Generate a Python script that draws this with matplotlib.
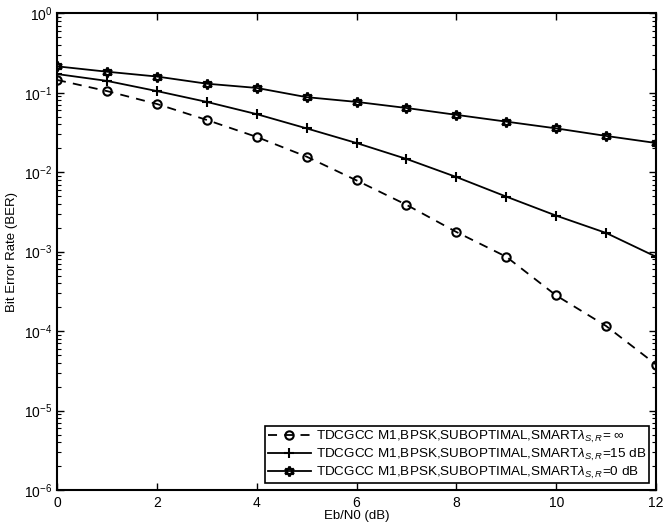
import matplotlib
matplotlib.use("Agg")
import matplotlib.pyplot as plt
from matplotlib.ticker import LogLocator, NullFormatter

plt.rcParams['font.family'] = ['Liberation Sans', 'DejaVu Sans']
plt.rcParams['mathtext.fontset'] = 'custom'
plt.rcParams['mathtext.rm'] = 'Liberation Sans'
plt.rcParams['mathtext.it'] = 'Liberation Sans:italic'

ebn0 = [0, 1, 2, 3, 4, 5, 6, 7, 8, 9, 10, 11, 12]
ber_inf = [0.145, 0.105, 0.0723, 0.0455, 0.0278, 0.0157, 0.00789, 0.00389,
           0.00177, 0.000863, 0.000281, 0.000116, 0.000038]
ber_15db = [0.172, 0.141, 0.105, 0.0767, 0.0538, 0.0356, 0.0233, 0.0147,
            0.0087, 0.00493, 0.00284, 0.00172, 0.000863]
ber_0db = [0.215, 0.184, 0.160, 0.130, 0.115, 0.088, 0.0767, 0.0643,
           0.0527, 0.0433, 0.0356, 0.0286, 0.0233]
labels = [r'TDCGCC M1,BPSK,SUBOPTIMAL,SMART$\lambda_{S,R}$= $\infty$',
          r'TDCGCC M1,BPSK,SUBOPTIMAL,SMART$\lambda_{S,R}$=15 dB',
          r'TDCGCC M1,BPSK,SUBOPTIMAL,SMART$\lambda_{S,R}$=0 dB']
xticks = [0, 2, 4, 6, 8, 10, 12]
yticks = [1e-6, 1e-5, 1e-4, 1e-3, 1e-2, 1e-1, 1e0]

fig = plt.figure(figsize=(6.64, 5.23), dpi=100)
ax = fig.add_axes([0.0858, 0.063, 0.9022, 0.9116])

ax.semilogy(ebn0, ber_inf, 'k--', marker='o', mfc='none', ms=6, mew=1.5, lw=1.3,
            dashes=(5, 4), label=labels[0])
ax.semilogy(ebn0, ber_15db, 'k-', marker='+', ms=7, mew=1.5, lw=1.3, label=labels[1])
ax.semilogy(ebn0, ber_0db, 'k-', marker=(6, 1, 0), mfc='none', ms=7, mew=1.8, lw=1.3,
            label=labels[2])

ax.set_xlim(0, 12)
ax.set_ylim(1e-6, 1e0)
ax.set_xticks(xticks)
ax.set_yticks(yticks)
ax.yaxis.set_minor_locator(LogLocator(base=10, subs=range(2, 10), numticks=10))
ax.yaxis.set_minor_formatter(NullFormatter())
ax.set_ylim(1e-6, 1e0)
ax.tick_params(which='both', direction='in', top=True, right=True, labelsize=10)
ax.tick_params(axis='x', pad=4)
ax.tick_params(which='major', length=5, width=1)
ax.tick_params(which='minor', length=3, width=0.8)
for s in ax.spines.values():
    s.set_linewidth(1.5)

ax.set_xlabel('Eb/N0 (dB)', fontsize=9.5, labelpad=0)
ax.set_ylabel('Bit Error Rate (BER)', fontsize=9.5)

leg = ax.legend(loc='lower right', fontsize=9.7, frameon=True, fancybox=False,
                edgecolor='black', framealpha=1, borderpad=0.2, labelspacing=0.12,
                handlelength=3.2, handletextpad=0.4, borderaxespad=0.5)
leg.get_frame().set_linewidth(1.2)

fig.savefig('out.png', dpi=100)
